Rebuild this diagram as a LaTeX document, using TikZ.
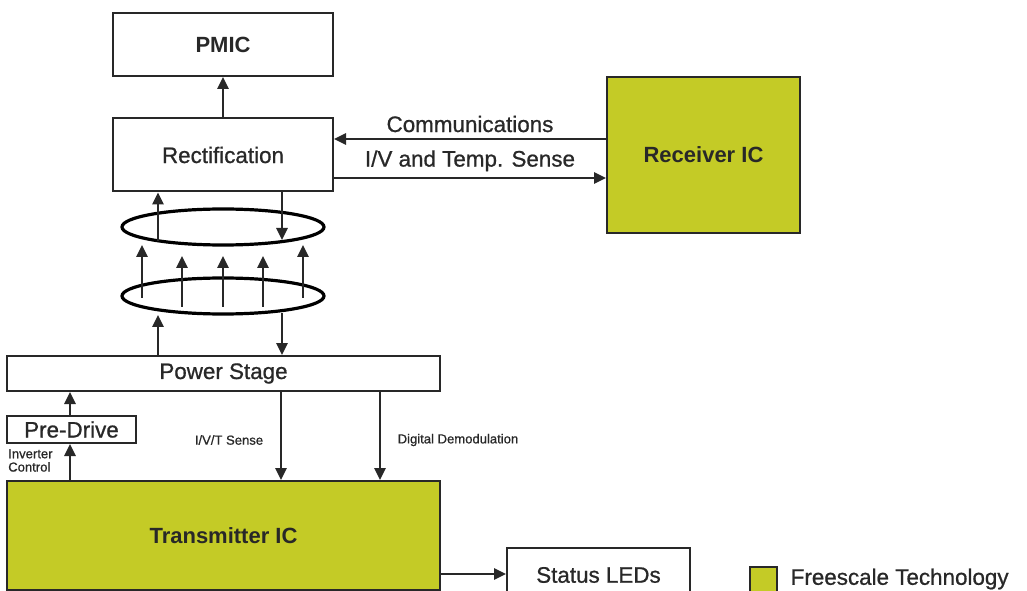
\documentclass[tikz,border=0pt]{standalone}
\usepackage{fontspec}
\setmainfont{Liberation Sans}
\newfontfamily\medfont[FakeBold=0.8]{Liberation Sans}
\usetikzlibrary{arrows.meta,shapes.geometric}
\definecolor{fsgreen}{RGB}{196,203,38}
\definecolor{ink}{RGB}{40,40,40}
\tikzset{
  box/.style={draw=ink, line width=1.5pt, fill=white, inner sep=0pt, text=ink},
  icbox/.style={box, fill=fsgreen},
  arr/.style={draw=ink, line width=1.5pt, -{Triangle[length=9pt,width=8.5pt]}},
  coil/.style={draw=black, line width=2.4pt, ellipse, inner sep=0pt},
  big/.style={font=\medfont\fontsize{16.8}{19}\selectfont},
  bigb/.style={font=\fontsize{16.5}{19}\selectfont\bfseries},
  small/.style={font=\medfont\fontsize{9.8}{11}\selectfont, text=ink},
}
\begin{document}
\begin{tikzpicture}[x=0.75pt,y=-0.75pt]
\useasboundingbox (0,0) rectangle (1027,591);
\clip (0,0) rectangle (1027,591);
% boxes
\node[box, bigb, minimum width=220*0.75pt, minimum height=63*0.75pt] (pmic) at (223,44.5) {PMIC};
\node[box, big, minimum width=220*0.75pt, minimum height=73*0.75pt] (rect) at (223,155) {Rectification};
\node[icbox, bigb, minimum width=193*0.75pt, minimum height=156*0.75pt] (rx) at (703.5,155) {Receiver IC};
\node[box, big, minimum width=433*0.75pt, minimum height=35*0.75pt] (power) at (223.5,373.5) {Power Stage};
\node[box, big, minimum width=129*0.75pt, minimum height=27*0.75pt] (pre) at (71.5,429.5) {Pre-Drive};
\node[icbox, bigb, minimum width=433*0.75pt, minimum height=109*0.75pt] (tx) at (223.5,535.5) {Transmitter IC};
\node[box, big, minimum width=183*0.75pt, minimum height=54*0.75pt] (leds) at (598.5,575) {Status LEDs};
\node[icbox, minimum width=27*0.75pt, minimum height=28*0.75pt] (legsq) at (763.5,581) {};
\node[big, text=ink, anchor=west] (legtxt) at (786,579) {Freescale Technology};
% coils
\node[coil, minimum width=202*0.75pt, minimum height=36*0.75pt] (coilA) at (223,227) {};
\node[coil, minimum width=202*0.75pt, minimum height=36*0.75pt] (coilB) at (223,296) {};
% PMIC link
\draw[arr] (rect.north) -- (pmic.south);
% receiver links
\coordinate (rxA) at (rx.west |- 0,139);
\coordinate (rxB) at (rx.west |- 0,178);
\draw[arr] (rxA) -- (rxA -| rect.east) node[midway, above=1pt, big, text=ink] (comm) {Communications};
\draw[arr] (rxB -| rect.east) -- (rxB) node[midway, above=1pt, big, text=ink] (ivt) {I/V and Temp. Sense};
% rectification <-> coil A
\coordinate (a1) at (158,241);
\coordinate (a2) at (282,240);
\draw[arr] (a1) -- (a1 |- rect.south);
\draw[arr] (a2 |- rect.south) -- (a2);
% field arrows between coils
\foreach \x/\ya/\yb [count=\i] in {142/298/245, 182/307/256, 223/307/256, 263/307/256, 303/298/245}{
  \coordinate (f\i s) at (\x,\ya);
  \coordinate (f\i e) at (\x,\yb);
  \draw[arr] (f\i s) -- (f\i e);
}
% coil B <-> power stage
\coordinate (b1) at (158,315);
\coordinate (b2) at (282,313);
\draw[arr] (b1 |- power.north) -- (b1);
\draw[arr] (b2) -- (b2 |- power.north);
% pre-drive
\draw[arr] (pre.north -| 70,0) -- (power.south -| 70,0);
\draw[arr] (tx.north -| 70,0) -- (pre.south -| 70,0);
\node[small, anchor=north west, align=left, inner sep=0pt] (inv) at (8,449) {Inverter\\[-1pt]Control};
% power -> transmitter
\draw[arr] (power.south -| 281,0) -- (tx.north -| 281,0);
\draw[arr] (power.south -| 380,0) -- (tx.north -| 380,0);
\node[small] (ivts) at (229,440) {I/V/T Sense};
\node[small] (demod) at (458,440) {Digital Demodulation};
% status
\draw[arr] (tx.east |- 0,574) -- (leds.west |- 0,574);
\end{tikzpicture}
\end{document}
